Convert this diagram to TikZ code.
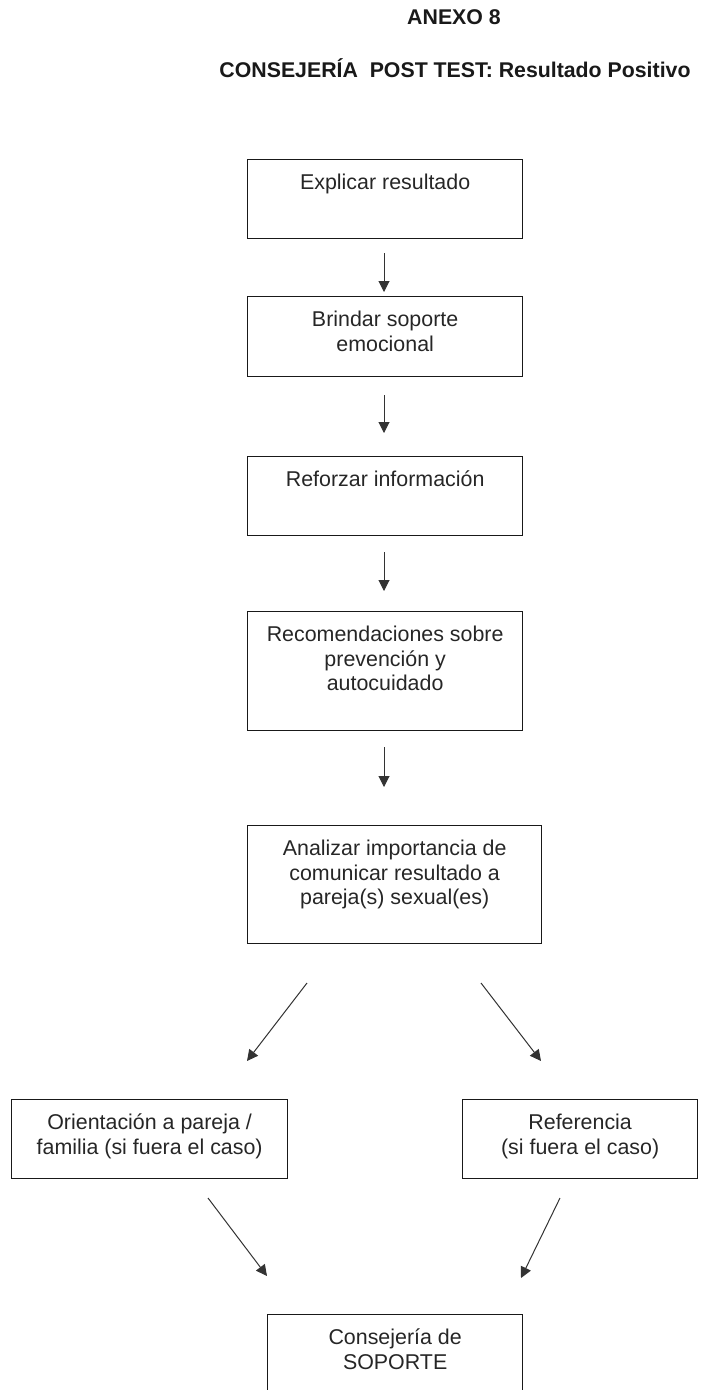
\documentclass[tikz,border=0pt]{standalone}
\usepackage{fontspec}
\setmainfont{Liberation Sans}
\usetikzlibrary{arrows.meta}
\begin{document}
\begin{tikzpicture}[x=1pt,y=-1pt,
  boxn/.style={draw=black!90, line width=1.3pt, inner sep=0pt, anchor=north west},
  txt/.style={font=\fontsize{21.4}{24.5}\selectfont, align=center, inner sep=0pt, text=black!85, anchor=north, yshift=-13.5pt},
  ttl/.style={font=\fontsize{21.3}{24.5}\selectfont\bfseries, inner sep=0pt, anchor=base, text=black!90},
  arr/.style={draw=black!80, line width=1pt, -{Triangle[length=11pt,width=11pt]}}]
\useasboundingbox (0,0) rectangle (707,1390);
\clip (0,0) rectangle (707,1390);
% titles
\node[ttl] (anexo) at (454,24.7) {ANEXO 8};
\node[ttl] (title) at (455,77.7) {CONSEJERÍA\ \ POST TEST: Resultado Positivo};
% boxes
\node[boxn, minimum width=275pt, minimum height=79pt] (b1) at (247,159) {};
\node[txt] (t1) at (b1.north) {\strut Explicar resultado};
\node[boxn, minimum width=275pt, minimum height=80pt] (b2) at (247,296) {};
\node[txt] (t2) at (b2.north) {\strut Brindar soporte\\emocional};
\node[boxn, minimum width=275pt, minimum height=79pt] (b3) at (247,456) {};
\node[txt] (t3) at (b3.north) {\strut Reforzar información};
\node[boxn, minimum width=275pt, minimum height=119pt] (b4) at (247,611) {};
\node[txt] (t4) at (b4.north) {\strut Recomendaciones sobre\\prevención y\\autocuidado};
\node[boxn, minimum width=294pt, minimum height=118pt] (b5) at (247,825) {};
\node[txt] (t5) at (b5.north) {\strut Analizar importancia de\\comunicar resultado a\\pareja(s) sexual(es)};
\node[boxn, minimum width=276pt, minimum height=79pt] (b6) at (11,1099) {};
\node[txt] (t6) at (b6.north) {\strut Orientación a pareja /\\familia (si fuera el caso)};
\node[boxn, minimum width=235pt, minimum height=79pt] (b7) at (462,1099) {};
\node[txt] (t7) at (b7.north) {\strut Referencia\\(si fuera el caso)};
\node[boxn, minimum width=255pt, minimum height=110pt] (b8) at (267,1314) {};
\node[txt] (t8) at (b8.north) {\strut Consejería de\\SOPORTE};
% arrow end points
\coordinate (a1s) at (384,253); \coordinate (a1e) at (384,292);
\coordinate (a2s) at (384,395); \coordinate (a2e) at (384,433);
\coordinate (a3s) at (384,552); \coordinate (a3e) at (384,591);
\coordinate (a4s) at (384,747); \coordinate (a4e) at (384,787);
\coordinate (a5s) at (307,983); \coordinate (a5e) at (247,1061);
\coordinate (a6s) at (481,983); \coordinate (a6e) at (541,1061);
\coordinate (a7s) at (208,1198); \coordinate (a7e) at (267,1276);
\coordinate (a8s) at (560,1198); \coordinate (a8e) at (521,1278);
\draw[arr] (a1s) -- (a1e);
\draw[arr] (a2s) -- (a2e);
\draw[arr] (a3s) -- (a3e);
\draw[arr] (a4s) -- (a4e);
\draw[arr] (a5s) -- (a5e);
\draw[arr] (a6s) -- (a6e);
\draw[arr] (a7s) -- (a7e);
\draw[arr] (a8s) -- (a8e);
\end{tikzpicture}
\end{document}
